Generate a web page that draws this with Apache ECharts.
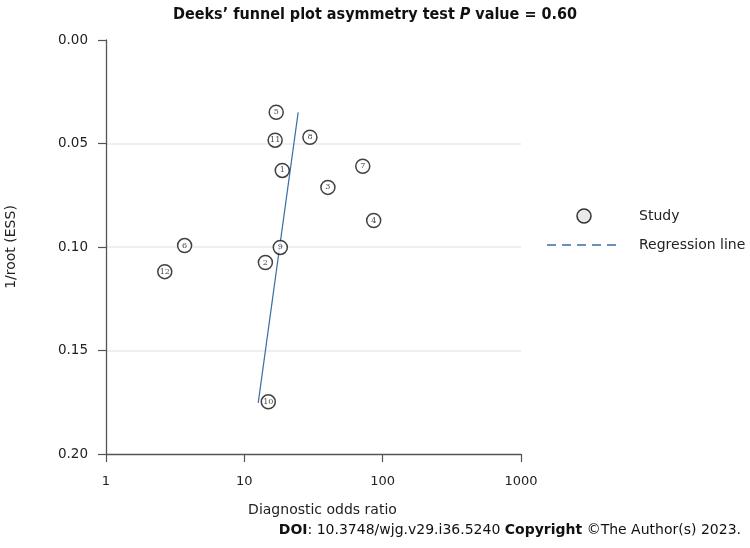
<!DOCTYPE html>
<html>
<head>
<meta charset="utf-8">
<script src="https://cdn.jsdelivr.net/npm/echarts@6/dist/echarts.min.js"></script>
<style>html,body{margin:0;padding:0;background:#fff}#c{width:750px;height:548px}</style>
</head>
<body>
<div id="c"></div>
<script>
// Study data
const studyIds = ['1','2','3','4','5','6','7','8','9','10','11','12'];
const diagnosticOddsRatio = [18.8, 14.2, 40.2, 86.1, 17.0, 3.70, 71.8, 29.8, 18.2, 14.9, 16.7, 2.66];
const invRootEss = [0.063, 0.1075, 0.0712, 0.0872, 0.0349, 0.0993, 0.061, 0.047, 0.1002, 0.1748, 0.0484, 0.1119];
// Regression line endpoints
const regressionX = [12.6, 24.5];
const regressionY = [0.1753, 0.0350];
// Axis ticks
const yTicks = [0.00, 0.05, 0.10, 0.15, 0.20];
const xTicks = [1, 10, 100, 1000];
// Legend entries
const legendNames = ['Study', 'Regression line'];

const FONT = 'DejaVu Sans';
const chart = echarts.init(document.getElementById('c'));
chart.setOption({
  animation: false,
  backgroundColor: '#fff',
  title: [
    {
      text: 'Deeks\u2019 funnel plot asymmetry test {i|P} value = 0.60',
      left: 'center', top: 2,
      textStyle: {
        fontFamily: 'DejaVu Sans Condensed', fontWeight: 'bold', fontSize: 16, color: '#111',
        rich: { i: { fontFamily: 'DejaVu Sans Condensed', fontWeight: 'bold', fontStyle: 'italic', fontSize: 16, color: '#111' } }
      }
    },
    {
      text: '{b|DOI}: 10.3748/wjg.v29.i36.5240 {b|Copyright} \u00a9The Author(s) 2023.',
      right: 4, bottom: 6,
      textStyle: {
        fontFamily: FONT, fontSize: 14, color: '#111', fontWeight: 'normal',
        rich: { b: { fontFamily: FONT, fontWeight: 'bold', fontSize: 14, color: '#111' } }
      }
    }
  ],
  graphic: [
    { type: 'circle', shape: { cx: 584, cy: 216, r: 7 }, style: { fill: '#e9e9e9', stroke: '#333', lineWidth: 1.5 } },
    { type: 'text', x: 639, y: 216, style: { text: legendNames[0], fontFamily: FONT, fontSize: 14, fill: '#222', verticalAlign: 'middle' } },
    { type: 'line', shape: { x1: 547, y1: 245, x2: 620, y2: 245 }, style: { stroke: '#3a6ea5', lineWidth: 1.3, lineDash: [9, 6] } },
    { type: 'text', x: 639, y: 245, style: { text: legendNames[1], fontFamily: FONT, fontSize: 14, fill: '#222', verticalAlign: 'middle' } }
  ],
  grid: { left: 106, right: 229, top: 40, bottom: 94, containLabel: false, outerBoundsMode: 'none' },
  xAxis: {
    type: 'log', logBase: 10, min: xTicks[0], max: xTicks[xTicks.length - 1],
    position: 'bottom',
    name: 'Diagnostic odds ratio', nameLocation: 'middle', nameGap: 49,
    nameTextStyle: { fontFamily: FONT, fontSize: 14, color: '#222', padding: [0, 0, 0, 18] },
    axisLine: { show: true, onZero: false, lineStyle: { color: '#555', width: 1.3 } },
    axisTick: { show: true, inside: false, length: 8, lineStyle: { color: '#555', width: 1.2 } },
    axisLabel: { fontFamily: FONT, fontSize: 13, color: '#222', margin: 21, formatter: v => String(Math.round(v)) },
    splitLine: { show: false },
    minorTick: { show: false }
  },
  yAxis: {
    type: 'value', inverse: true, min: yTicks[0], max: yTicks[yTicks.length - 1], interval: 0.05,
    name: '1/root (ESS)', nameLocation: 'middle', nameGap: 88, nameRotate: 90,
    nameTextStyle: { fontFamily: FONT, fontSize: 14, color: '#222' },
    axisLine: { show: true, onZero: false, lineStyle: { color: '#555', width: 1.3 } },
    axisTick: { show: true, inside: false, length: 8, lineStyle: { color: '#555', width: 1.2 } },
    axisLabel: { fontFamily: FONT, fontSize: 13.5, color: '#222', margin: 18, formatter: v => v.toFixed(2) },
    splitLine: { show: true, showMinLine: false, showMaxLine: false, lineStyle: { color: '#e4eced', width: 1.5 } }
  },
  series: [
    {
      name: 'Study', type: 'scatter', symbol: 'circle', symbolSize: 14,
      itemStyle: { color: '#fff', borderColor: '#111', borderWidth: 1.5 },
      label: { show: true, position: 'inside', fontFamily: 'DejaVu Serif', fontSize: 8, color: '#111', formatter: p => p.data[2] },
      data: studyIds.map((id, i) => [diagnosticOddsRatio[i], invRootEss[i], id]),
      z: 3
    },
    {
      name: 'Regression line', type: 'line', symbol: 'none',
      lineStyle: { color: '#3a6ea5', width: 1.2 },
      data: regressionX.map((x, i) => [x, regressionY[i]]),
      z: 2
    }
  ]
});
</script>
</body>
</html>
